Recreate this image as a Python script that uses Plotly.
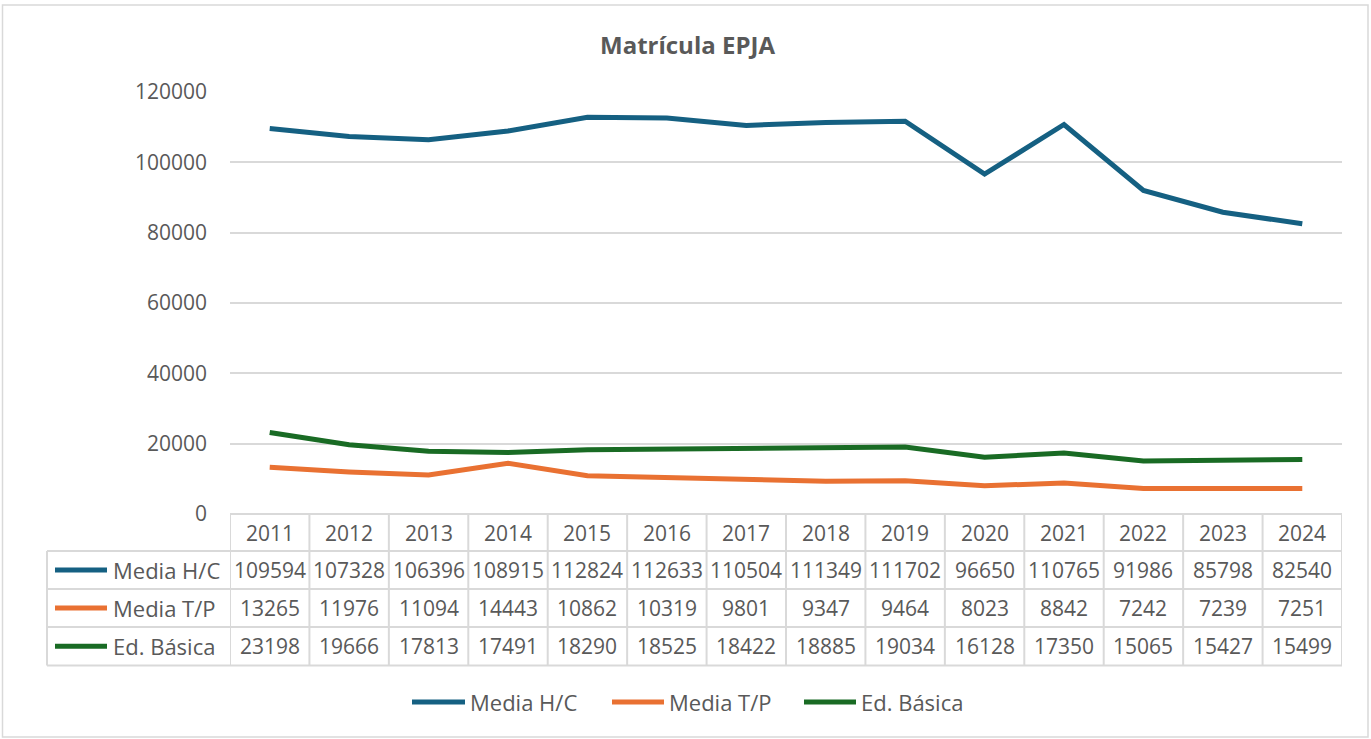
import plotly.graph_objects as go

years = ["2011", "2012", "2013", "2014", "2015", "2016", "2017", "2018", "2019", "2020", "2021", "2022", "2023", "2024"]
media_hc = [109594, 107328, 106396, 108915, 112824, 112633, 110504, 111349, 111702, 96650, 110765, 91986, 85798, 82540]
media_tp = [13265, 11976, 11094, 14443, 10862, 10319, 9801, 9347, 9464, 8023, 8842, 7242, 7239, 7251]
ed_basica = [23198, 19666, 17813, 17491, 18290, 18525, 18422, 18885, 19034, 16128, 17350, 15065, 15427, 15499]
series_names = ["Media H/C", "Media T/P", "Ed. Básica"]
series_colors = ["#156082", "#E97132", "#196B24"]
series_values = [media_hc, media_tp, ed_basica]
title_text = "Matrícula EPJA"
y_ticks = [0, 20000, 40000, 60000, 80000, 100000, 120000]

W, H = 1371, 739
FONT = "Open Sans"
TXT = "#595959"
GRID = "#d9d9d9"


def px(x):
    return x / W


def py(y):
    return 1 - y / H


fig = go.Figure()
idx = list(range(len(years)))
for name, col, vals in zip(series_names, series_colors, series_values):
    fig.add_trace(go.Scatter(x=idx, y=vals, mode="lines", name=name,
                             line=dict(color=col, width=5), showlegend=False,
                             hovertemplate="%{y}<extra>" + name + "</extra>"))

shapes = []
annotations = []

# outer frame
shapes.append(dict(type="rect", xref="paper", yref="paper", x0=px(2.5), x1=px(1368), y0=py(5), y1=py(737),
                   line=dict(color=GRID, width=1.5), fillcolor="rgba(0,0,0,0)", layer="below"))

# data table
row_edges = [514, 551, 589, 627, 665.5]
tab_left = 47
plot_left = 230
plot_right = 1342
shapes.append(dict(type="line", xref="paper", yref="paper", x0=px(plot_left), x1=px(plot_right),
                   y0=py(row_edges[0]), y1=py(row_edges[0]), line=dict(color=GRID, width=2)))
for ry in row_edges[1:]:
    shapes.append(dict(type="line", xref="paper", yref="paper", x0=px(tab_left), x1=px(plot_right),
                       y0=py(ry), y1=py(ry), line=dict(color=GRID, width=2)))
shapes.append(dict(type="line", xref="paper", yref="paper", x0=px(tab_left), x1=px(tab_left),
                   y0=py(row_edges[1]), y1=py(row_edges[-1]), line=dict(color=GRID, width=2)))
for i in range(len(years) + 1):
    shapes.append(dict(type="line", xref="x", yref="paper", x0=i - 0.5, x1=i - 0.5,
                       y0=py(row_edges[0]), y1=py(row_edges[-1]), line=dict(color=GRID, width=2)))

row_centers = [(row_edges[k] + row_edges[k + 1]) / 2 for k in range(4)]
for i, yr in enumerate(years):
    annotations.append(dict(x=i, y=py(row_centers[0]), xref="x", yref="paper", text=yr, showarrow=False,
                            font=dict(family=FONT, size=21, color=TXT), xanchor="center", yanchor="middle"))
for k, (name, col, vals) in enumerate(zip(series_names, series_colors, series_values)):
    yc = py(row_centers[k + 1])
    for i, v in enumerate(vals):
        annotations.append(dict(x=i, y=yc, xref="x", yref="paper", text=str(v), showarrow=False,
                                font=dict(family=FONT, size=21, color=TXT), xanchor="center", yanchor="middle"))
    shapes.append(dict(type="line", xref="paper", yref="paper", x0=px(55), x1=px(107), y0=yc, y1=yc,
                       line=dict(color=col, width=5)))
    annotations.append(dict(x=px(111), y=yc, xref="paper", yref="paper", text=name, showarrow=False,
                            font=dict(family=FONT, size=22, color=TXT), xanchor="left", yanchor="middle"))

# bottom legend
leg_keys = [(412, 465), (612, 664), (804, 856)]
for (x0, x1), name, col in zip(leg_keys, series_names, series_colors):
    yc = py(702)
    shapes.append(dict(type="line", xref="paper", yref="paper", x0=px(x0), x1=px(x1), y0=yc, y1=yc,
                       line=dict(color=col, width=5)))
    annotations.append(dict(x=px(x1 + 3), y=yc, xref="paper", yref="paper", text=name, showarrow=False,
                            font=dict(family=FONT, size=22, color=TXT), xanchor="left", yanchor="middle"))

# title
annotations.append(dict(x=px(687), y=py(45), xref="paper", yref="paper", text="<b>" + title_text + "</b>",
                        showarrow=False, font=dict(family=FONT, size=24, color=TXT),
                        xanchor="center", yanchor="middle"))

fig.update_layout(
    width=W, height=H,
    margin=dict(l=0, r=0, t=0, b=0, pad=0),
    paper_bgcolor="white", plot_bgcolor="white",
    shapes=shapes, annotations=annotations,
    showlegend=False,
    xaxis=dict(domain=[px(plot_left), px(plot_right)], range=[-0.5, len(years) - 0.5], automargin=False,
               showgrid=False, zeroline=False, showticklabels=False, showline=False, fixedrange=True),
    yaxis=dict(domain=[py(514), py(92)], range=[0, 120000], tickvals=y_ticks, tickformat="d", automargin=False,
               showgrid=True, gridcolor=GRID, gridwidth=2, zeroline=False, showline=False,
               tickfont=dict(family=FONT, size=21, color=TXT), ticklabelstandoff=22, fixedrange=True),
)

fig.write_html("out.html", config={"displayModeBar": False},
               post_script="document.body.style.margin='0';document.body.style.overflow='hidden';")
